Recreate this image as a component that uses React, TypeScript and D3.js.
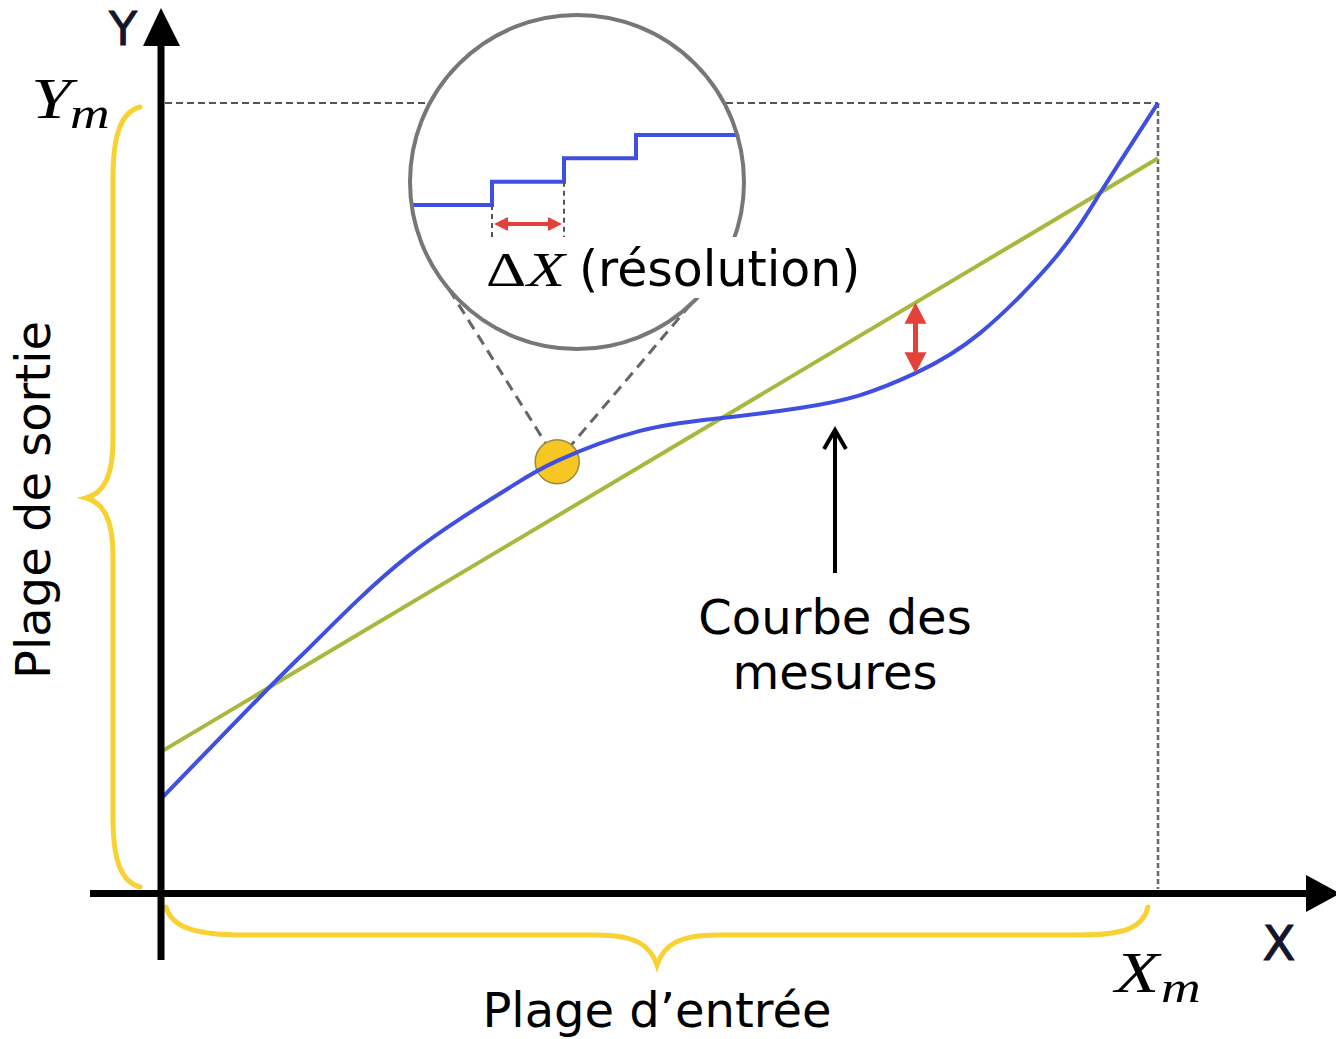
import React from "react";
import * as d3 from "d3";

// measured curve (x in % of Xm, y in % of Ym)
const measuredX = [0, 10, 15, 20, 25, 30, 35, 39.8, 48.1, 56.1, 64.1, 70.1, 75.7, 82.2, 89.7, 94.2, 100];
const measuredY = [11.8, 24.8, 31.1, 37.3, 42.8, 47.3, 51.3, 54.7, 58.5, 60.1, 61.4, 63.0, 65.8, 70.9, 80.4, 88.6, 100];

// ideal straight line
const idealX = [0, 100];
const idealY = [17.8, 93.0];

// zoomed point on the curve
const zoomX = 39.8;
const zoomY = 54.6;

// deviation arrow: x, measured value, ideal value
const devX = 75.7;
const devLow = 65.8;
const devHigh = 74.7;

// inset steps
const stepX = [-1.1, 0, 1, 2, 3.6];
const stepLevel = [0, 1, 2, 3, 3];

const W = 1336;
const H = 1039;
const FONT = "'DejaVu Sans', Verdana, sans-serif";
const SERIF = "'Liberation Serif', 'Times New Roman', serif";

const BLUE = "#3f4fe0";
const GREEN = "#a7b83c";
const YELLOW = "#f8d132";
const RED = "#e5403a";

// italic math letter, stretched a bit to look like Computer Modern
const MathText = ({ x, y, size, italic = true, sx = 1.25, children }: any) => (
    <text
        transform={`translate(${x},${y}) scale(${sx},1)`}
        fontFamily={SERIF}
        fontStyle={italic ? "italic" : "normal"}
        fontSize={size}
        fill="#000"
    >
        {children}
    </text>
);

const App = () => {
    const x = d3.scaleLinear().domain([0, 100]).range([160, 1158]);
    const y = d3.scaleLinear().domain([0, 100]).range([893, 103]);

    const measuredLine = d3
        .line<number>()
        .x((d) => x(d))
        .y((d, i) => y(measuredY[i]))
        .curve(d3.curveNatural);

    const idealLine = d3
        .line<number>()
        .x((d) => x(d))
        .y((d, i) => y(idealY[i]));

    // inset (magnifier)
    const cx = 577;
    const cy = 182;
    const r = 167;
    const ix = d3.scaleLinear().domain([0, 1]).range([492, 564]);
    const iy = d3.scaleLinear().domain([0, 3]).range([205, 135]);
    const stepLine = d3
        .line<number>()
        .x((d) => ix(d))
        .y((d, i) => iy(stepLevel[i]))
        .curve(d3.curveStepAfter);

    const dotX = x(zoomX);
    const dotY = y(zoomY);
    const dotR = 22;
    const tangent = (deg: number) => {
        const a = (deg * Math.PI) / 180;
        const sx = cx + r * Math.cos(a);
        const sy = cy + r * Math.sin(a);
        const dx = dotX - sx;
        const dy = dotY - sy;
        const len = Math.hypot(dx, dy);
        return { x1: sx, y1: sy, x2: sx + (dx * (len - dotR)) / len, y2: sy + (dy * (len - dotR)) / len };
    };
    const tl = tangent(140);
    const tr = tangent(47);

    const dvx = x(devX);
    const dTop = y(devHigh);
    const dBot = y(devLow);

    const leftBrace =
        "M140,107 C121,112 113,135 113,178 L113,440 C113,476 104,493 86,498 C104,503 113,520 113,556 L113,818 C113,860 121,882 140,887";
    const bottomBrace =
        "M166,907 C172,928 196,935 245,935 L596,935 C634,935 650,944 657,965 C664,944 680,935 718,935 L1080,935 C1124,935 1143,928 1148,907";

    return (
        <svg width={W} height={H} style={{ position: "absolute", left: 0, top: 0, background: "#fff" }}>
            <defs>
                <clipPath id="lens">
                    <circle cx={cx} cy={cy} r={r} />
                </clipPath>
            </defs>

            {/* dashed limits */}
            <line x1={x(0) + 5} x2={x(100)} y1={y(100)} y2={y(100)} stroke="#555" strokeWidth={2} strokeDasharray="7,4" />
            <line x1={x(100)} x2={x(100)} y1={y(100)} y2={y(0) - 4} stroke="#666" strokeWidth={2.5} strokeDasharray="5,3" />

            {/* braces */}
            <path d={leftBrace} fill="none" stroke={YELLOW} strokeWidth={5} strokeLinecap="round" />
            <path d={bottomBrace} fill="none" stroke={YELLOW} strokeWidth={5} strokeLinecap="round" />

            {/* curves */}
            <path d={idealLine(idealX) || ""} fill="none" stroke={GREEN} strokeWidth={4} />

            {/* zoom guides and dot */}
            <line {...tl} stroke="#666" strokeWidth={3} strokeDasharray="11,7" />
            <line {...tr} stroke="#666" strokeWidth={3} strokeDasharray="11,7" />
            <circle cx={dotX} cy={dotY} r={dotR} fill="#f6c623" stroke="#9a8a40" strokeWidth={1.5} />

            <path d={measuredLine(measuredX) || ""} fill="none" stroke={BLUE} strokeWidth={4} />

            {/* deviation arrow */}
            <line x1={dvx} x2={dvx} y1={dTop + 16} y2={dBot - 16} stroke={RED} strokeWidth={5} />
            <path d={`M${dvx},${dTop} L${dvx - 11},${dTop + 21} L${dvx + 11},${dTop + 21} Z`} fill={RED} />
            <path d={`M${dvx},${dBot} L${dvx - 11},${dBot - 21} L${dvx + 11},${dBot - 21} Z`} fill={RED} />

            {/* magnifier */}
            <circle cx={cx} cy={cy} r={r} fill="#fff" />
            <g clipPath="url(#lens)">
                <path d={stepLine(stepX) || ""} fill="none" stroke={BLUE} strokeWidth={4} />
                <line x1={ix(0)} x2={ix(0)} y1={iy(0)} y2={246} stroke="#555" strokeWidth={2} strokeDasharray="5,4" />
                <line x1={ix(1)} x2={ix(1)} y1={iy(1)} y2={246} stroke="#555" strokeWidth={2} strokeDasharray="5,4" />
            </g>
            <circle cx={cx} cy={cy} r={r} fill="none" stroke="#777" strokeWidth={4} />
            <line x1={ix(0) + 12} x2={ix(1) - 12} y1={224} y2={224} stroke={RED} strokeWidth={4} />
            <path d={`M${ix(0) + 2},224 L${ix(0) + 16},217 L${ix(0) + 16},231 Z`} fill={RED} />
            <path d={`M${ix(1) - 2},224 L${ix(1) - 16},217 L${ix(1) - 16},231 Z`} fill={RED} />
            <rect x={483} y={237} width={380} height={61} fill="#fff" />
            <MathText x={486} y={286} size={48} italic={false} sx={1.3}>Δ</MathText>
            <MathText x={527} y={286} size={48} sx={1.3}>X</MathText>
            <text x={579} y={286} fontFamily={FONT} fontSize={49} fill="#000">(résolution)</text>

            {/* axes */}
            <line x1={161} x2={161} y1={40} y2={960} stroke="#000" strokeWidth={7} />
            <path d="M161,8 L143,46 L180,46 Z" fill="#000" />
            <line x1={90} x2={1310} y1={893.5} y2={893.5} stroke="#000" strokeWidth={7} />
            <path d="M1340,893.5 L1306,875 L1306,912 Z" fill="#000" />

            <text x={123} y={45} fontFamily={FONT} fontSize={46} textAnchor="middle" fill="#14142b" stroke="#14142b" strokeWidth={1}>Y</text>
            <text x={1279} y={960} fontFamily={FONT} fontSize={48} textAnchor="middle" fill="#14142b" stroke="#14142b" strokeWidth={1}>X</text>

            <MathText x={31} y={118} size={58}>Y</MathText>
            <MathText x={70} y={128} size={44}>m</MathText>
            <MathText x={1115} y={992} size={58}>X</MathText>
            <MathText x={1161} y={1002} size={44}>m</MathText>

            {/* annotation arrow */}
            <line x1={835} x2={835} y1={573} y2={431} stroke="#000" strokeWidth={4} />
            <path d="M824,449 L835,430 L846,449" fill="none" stroke="#000" strokeWidth={4} strokeLinejoin="miter" />
            <text x={835} y={634} fontFamily={FONT} fontSize={48} textAnchor="middle" fill="#000">Courbe des</text>
            <text x={835} y={689} fontFamily={FONT} fontSize={48} textAnchor="middle" fill="#000">mesures</text>

            <text x={657} y={1027} fontFamily={FONT} fontSize={48} textAnchor="middle" fill="#000">Plage d’entrée</text>
            <text
                transform="translate(50,500) rotate(-90)"
                fontFamily={FONT}
                fontSize={48}
                textAnchor="middle"
                fill="#000"
            >
                Plage de sortie
            </text>
        </svg>
    );
};

export default App;
